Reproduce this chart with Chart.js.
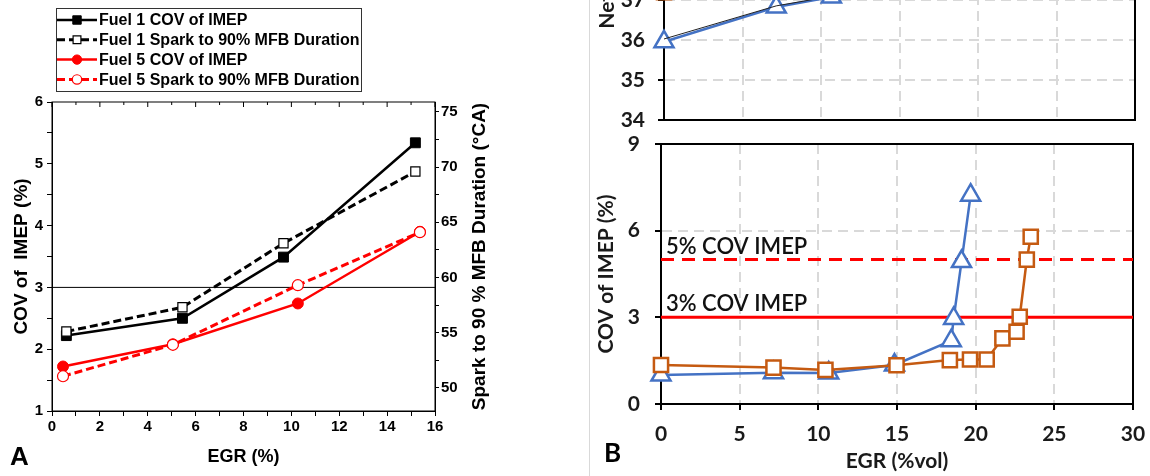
<!DOCTYPE html>
<html>
<head>
<meta charset="utf-8">
<script src="https://cdn.jsdelivr.net/npm/chart.js@4.4.1/dist/chart.umd.min.js"></script>
<style>
html, body { margin: 0; padding: 0; background: #fff; width: 1150px; height: 476px; overflow: hidden; position: relative; }
canvas { position: absolute; }
#panelA { left: 0; top: 0; }
#effB { left: 590px; top: -330px; }
#covB { left: 590px; top: 124px; }
#divider { position: absolute; left: 589px; top: 0; width: 1px; height: 476px; background: #d9d9d9; }
</style>
</head>
<body>
<div id="divider"></div>
<canvas id="panelA" width="500" height="476"></canvas>
<canvas id="effB" width="560" height="464"></canvas>
<canvas id="covB" width="560" height="352"></canvas>
<script>
// ---- panel A : fuel 1 vs fuel 5 ----
const egrFuel1 = [0.6, 5.45, 9.67, 15.18];
const covFuel1 = [2.22, 2.50, 3.49, 5.34];
const sparkFuel1 = [55.1, 57.3, 63.1, 69.6];
const egrFuel5 = [0.46, 5.05, 10.27, 15.37];
const covFuel5 = [1.72, 2.08, 2.74, 3.90];
const sparkFuel5 = [51.05, 53.9, 59.3, 64.1];
const covLimitA = 3;
const egrRangeA = [0, 16];
const covRangeA = [1, 6];
const sparkRangeA = [47.9, 75.9];

// ---- panel B : two blends, COV and efficiency vs EGR ----
const egrBlue = [0, 7.15, 10.66, 14.84, 18.45, 18.6, 19.1, 19.68];
const covBlue = [1.0, 1.08, 1.07, 1.35, 2.19, 2.96, 4.93, 7.23];
const effBlue = [35.96, 36.83, 37.08, 37.5, 37.25, 37.6, 37.8, 37.9];
const egrOrange = [0, 7.15, 10.45, 14.97, 18.36, 19.64, 20.7, 21.7, 22.6, 22.8, 23.25, 23.5];
const covOrange = [1.35, 1.26, 1.18, 1.34, 1.52, 1.54, 1.54, 2.27, 2.5, 3.02, 5.0, 5.79];
const effOrange = [37.2, 37.9, 38.2, 38.6, 38.8, 38.9, 38.9, 38.8, 38.6, 38.5, 38.2, 38.0];
const egrTrend = [0, 7.15, 10.66];
const effTrend = [36.03, 36.86, 37.1];
const covLimitsB = [3, 5];
const covLimitLabelsB = ['3% COV IMEP', '5% COV IMEP'];
const egrRangeB = [0, 30];
const covRangeB = [0, 9];
const effRangeB = [34, 44.75];

const pts = (xs, ys) => xs.map((x, i) => ({x: x, y: ys[i]}));

const ARIAL = 'Liberation Sans';
const CALI = 'Lato';
const BLUE = '#4472c4';
const ORANGE = '#c55a11';

// fixed axis boxes, no extra room for overhanging labels
const fixW = w => s => { s.width = w; s.paddingTop = 0; s.paddingBottom = 0; };
const fixH = h => s => { s.height = h; s.paddingLeft = 0; s.paddingRight = 0; };

// box round the plot area
const frame = {
  id: 'frame',
  beforeDatasetsDraw(chart, args, opts) {
    const a = chart.chartArea, ctx = chart.ctx;
    ctx.save();
    ctx.strokeStyle = '#000';
    ctx.lineWidth = opts.width || 1;
    ctx.strokeRect(a.left, a.top, a.right - a.left, a.bottom - a.top);
    if (opts.topTicks) {
      const sx = chart.scales.x;
      ctx.lineWidth = 1;
      for (let v = sx.min; v <= sx.max; v++) {
        const px = sx.getPixelForValue(v);
        ctx.beginPath();
        ctx.moveTo(px, a.top);
        ctx.lineTo(px, a.top + (v % 2 === 0 ? 5 : 3));
        ctx.stroke();
      }
    }
    ctx.restore();
  }
};

// legend in a box, panel A
const boxLegend = {
  id: 'boxLegend',
  afterDraw(chart, args, o) {
    if (!o.show) return;
    const ctx = chart.ctx;
    ctx.save();
    ctx.strokeStyle = '#333';
    ctx.lineWidth = 1;
    ctx.strokeRect(o.x + 0.5, o.y + 0.5, o.w, o.h);
    ctx.font = 'bold 16px "' + ARIAL + '"';
    ctx.textBaseline = 'middle';
    ctx.fillStyle = '#000';
    chart.data.datasets.filter(d => d.label).forEach((d, i) => {
      const y = o.y + o.rowTop + i * o.rowH;
      ctx.strokeStyle = d.borderColor;
      ctx.lineWidth = d.borderWidth;
      ctx.setLineDash(d.borderDash || []);
      ctx.beginPath();
      ctx.moveTo(o.x + 1, y);
      ctx.lineTo(o.x + 41, y);
      ctx.stroke();
      ctx.setLineDash([]);
      ctx.fillStyle = d.pointBackgroundColor;
      ctx.strokeStyle = d.pointBorderColor;
      ctx.lineWidth = d.pointBorderWidth;
      Chart.helpers.drawPoint(ctx, {pointStyle: d.pointStyle, radius: d.pointRadius * 0.85, borderWidth: d.pointBorderWidth, rotation: 0}, o.x + 21, y);
      ctx.fillStyle = '#000';
      ctx.fillText(d.label, o.x + 43, y + 1);
    });
    ctx.restore();
  }
};

// free texts: right title, panel letters, limit labels
const extraText = {
  id: 'extraText',
  afterDraw(chart, args, o) {
    const ctx = chart.ctx, a = chart.chartArea;
    ctx.save();
    ctx.fillStyle = '#000';
    if (o.rightTitle) {
      ctx.save();
      ctx.font = 'bold 19px "' + ARIAL + '"';
      ctx.textAlign = 'center';
      ctx.textBaseline = 'middle';
      ctx.translate(o.rightTitleX, (a.top + a.bottom) / 2);
      ctx.rotate(-Math.PI / 2);
      ctx.fillText(o.rightTitle, 0, 0);
      ctx.restore();
    }
    if (o.letter) {
      ctx.font = o.letterFont;
      ctx.textAlign = 'left';
      ctx.textBaseline = 'alphabetic';
      ctx.fillText(o.letter, o.letterX, o.letterY);
    }
    if (o.limits) {
      ctx.font = '600 22px "' + CALI + '"';
      ctx.fillStyle = '#111';
      ctx.textAlign = 'left';
      ctx.textBaseline = 'alphabetic';
      o.limits.forEach((v, i) => {
        ctx.fillText(o.limitLabels[i], a.left + 5, chart.scales.y.getPixelForValue(v) - 6);
      });
    }
    ctx.restore();
  }
};

Chart.register(frame, boxLegend, extraText);

const fontA = (size) => ({family: ARIAL, weight: 'bold', size: size});
const fontB = (size) => ({family: CALI, weight: 'bold', size: size});

new Chart(document.getElementById('panelA'), {
  type: 'line',
  data: {
    datasets: [
      { label: 'Fuel 1 COV of IMEP', data: pts(egrFuel1, covFuel1), yAxisID: 'y',
        borderColor: '#000', borderWidth: 2.5, pointStyle: 'rect', pointRadius: 7,
        pointBackgroundColor: '#000', pointBorderColor: '#000', pointBorderWidth: 1, order: 3 },
      { label: 'Fuel 1 Spark to 90% MFB Duration', data: pts(egrFuel1, sparkFuel1), yAxisID: 'y2',
        borderColor: '#000', borderWidth: 3, borderDash: [8, 4], pointStyle: 'rect', pointRadius: 6.5,
        pointBackgroundColor: '#fff', pointBorderColor: '#000', pointBorderWidth: 1.2, order: 1 },
      { label: 'Fuel 5 COV of IMEP', data: pts(egrFuel5, covFuel5), yAxisID: 'y',
        borderColor: '#ff0000', borderWidth: 2.5, pointStyle: 'circle', pointRadius: 5.5,
        pointBackgroundColor: '#ff0000', pointBorderColor: '#ff0000', pointBorderWidth: 1, order: 4 },
      { label: 'Fuel 5 Spark to 90% MFB Duration', data: pts(egrFuel5, sparkFuel5), yAxisID: 'y2',
        borderColor: '#ff0000', borderWidth: 3, borderDash: [8, 4], pointStyle: 'circle', pointRadius: 5.5,
        pointBackgroundColor: '#fff', pointBorderColor: '#ff0000', pointBorderWidth: 1.2, order: 2 },
      { data: [{x: egrRangeA[0], y: covLimitA}, {x: egrRangeA[1], y: covLimitA}], yAxisID: 'y',
        borderColor: '#000', borderWidth: 1, pointRadius: 0, order: 5 }
    ]
  },
  options: {
    responsive: false, animation: false, devicePixelRatio: 1,
    layout: { padding: { top: 102, left: 0, right: 0, bottom: 0 } },
    scales: {
      x: {
        type: 'linear', min: egrRangeA[0], max: egrRangeA[1],
        ticks: { stepSize: 1, autoSkip: false, maxRotation: 0, padding: 2, color: '#000', font: fontA(15),
                 callback: v => v % 2 === 0 ? v : '' },
        grid: { drawOnChartArea: false, tickLength: 5, tickColor: '#000' },
        border: { color: '#000', width: 1 },
        title: { display: true, text: 'EGR (%)', color: '#000', font: fontA(18), padding: { top: 0, bottom: 8 } },
        afterFit: fixH(65)
      },
      y: {
        position: 'left', min: covRangeA[0], max: covRangeA[1],
        ticks: { stepSize: 0.5, autoSkip: false, padding: 4, color: '#000', font: fontA(15),
                 callback: v => Number.isInteger(v) ? v : '' },
        grid: { drawOnChartArea: false, tickLength: 5, tickColor: '#000' },
        border: { color: '#000', width: 1 },
        title: { display: true, text: 'COV of  IMEP (%)', color: '#000', font: fontA(19), padding: { top: 10, bottom: 0 } },
        afterFit: fixW(52)
      },
      y2: {
        position: 'right', min: sparkRangeA[0], max: sparkRangeA[1],
        ticks: { stepSize: 2.5, includeBounds: false, autoSkip: false, padding: 2, color: '#000', font: fontA(15),
                 callback: v => v % 5 === 0 ? v : '' },
        grid: { drawOnChartArea: false, tickLength: 4, tickColor: '#000' },
        border: { color: '#000', width: 1 },
        afterFit: fixW(65)
      }
    },
    plugins: {
      legend: { display: false }, tooltip: { enabled: false },
      frame: { width: 1, topTicks: true },
      boxLegend: { show: true, x: 56, y: 8, w: 305, h: 83, rowTop: 12, rowH: 19.8 },
      extraText: { rightTitle: 'Spark to 90 % MFB Duration (°CA)', rightTitleX: 480,
                   letter: 'A', letterFont: 'bold 26px "' + ARIAL + '"', letterX: 10, letterY: 465 }
    }
  }
});

const gridB = { color: '#d9d9d9', lineWidth: 2, tickLength: 6, tickColor: '#000', tickWidth: 2 };

new Chart(document.getElementById('effB'), {
  type: 'line',
  data: {
    datasets: [
      { label: 'Orange', data: pts(egrOrange, effOrange), borderColor: ORANGE, borderWidth: 2.5,
        pointStyle: 'rect', pointRadius: 10, pointBackgroundColor: '#fff', pointBorderColor: ORANGE, pointBorderWidth: 2.5, clip: false },
      { label: 'Trend', data: pts(egrTrend, effTrend), borderColor: '#222', borderWidth: 1, pointRadius: 0 },
      { label: 'Blue', data: pts(egrBlue, effBlue), borderColor: BLUE, borderWidth: 2.5,
        pointStyle: 'triangle', pointRadius: 11, pointBackgroundColor: '#fff', pointBorderColor: BLUE, pointBorderWidth: 2.5, clip: false }
    ]
  },
  options: {
    responsive: false, animation: false, devicePixelRatio: 1,
    layout: { padding: { top: 21, left: 0, right: 15, bottom: 4 } },
    scales: {
      x: {
        type: 'linear', min: egrRangeB[0], max: egrRangeB[1],
        ticks: { display: false, stepSize: 5 },
        grid: Object.assign({}, gridB, { drawTicks: false }),
        border: { color: '#000', width: 2, dash: [10, 6] },
        afterFit: fixH(10)
      },
      y: {
        min: effRangeB[0], max: effRangeB[1],
        ticks: { stepSize: 1, includeBounds: false, padding: 13, color: '#1a1a1a', font: fontB(21) },
        grid: gridB,
        border: { color: '#000', width: 2, dash: [10, 6] },
        title: { display: true, text: 'Net Thermal Efficiency (%)', color: '#1a1a1a', font: fontB(21), padding: { top: 5, bottom: 0 } },
        afterFit: fixW(74)
      }
    },
    plugins: { legend: { display: false }, tooltip: { enabled: false }, frame: { width: 2 } }
  }
});

new Chart(document.getElementById('covB'), {
  type: 'line',
  data: {
    datasets: [
      { label: 'Orange', data: pts(egrOrange, covOrange), borderColor: ORANGE, borderWidth: 2.5,
        pointStyle: 'rect', pointRadius: 10, pointBackgroundColor: '#fff', pointBorderColor: ORANGE, pointBorderWidth: 2.5, clip: false },
      { label: 'Blue', data: pts(egrBlue, covBlue), borderColor: BLUE, borderWidth: 2.5,
        pointStyle: 'triangle', pointRadius: 11, pointBackgroundColor: '#fff', pointBorderColor: BLUE, pointBorderWidth: 2.5, clip: false },
      { label: '3% COV IMEP', data: [{x: egrRangeB[0], y: covLimitsB[0]}, {x: egrRangeB[1], y: covLimitsB[0]}],
        borderColor: '#ff0000', borderWidth: 3, pointRadius: 0 },
      { label: '5% COV IMEP', data: [{x: egrRangeB[0], y: covLimitsB[1]}, {x: egrRangeB[1], y: covLimitsB[1]}],
        borderColor: '#ff0000', borderWidth: 3, borderDash: [13, 8], pointRadius: 0 }
    ]
  },
  options: {
    responsive: false, animation: false, devicePixelRatio: 1,
    layout: { padding: { top: 20, left: 0, right: 17, bottom: 0 } },
    scales: {
      x: {
        type: 'linear', min: egrRangeB[0], max: egrRangeB[1],
        ticks: { stepSize: 5, maxRotation: 0, padding: 12, color: '#1a1a1a', font: fontB(21) },
        grid: gridB,
        border: { color: '#000', width: 2, dash: [10, 6] },
        title: { display: true, text: 'EGR (%vol)', color: '#1a1a1a', font: fontB(21), padding: { top: 0, bottom: 2 } },
        afterFit: fixH(72)
      },
      y: {
        min: covRangeB[0], max: covRangeB[1],
        ticks: { stepSize: 3, padding: 15, color: '#1a1a1a', font: fontB(21) },
        grid: gridB,
        border: { color: '#000', width: 2, dash: [10, 6] },
        title: { display: true, text: 'COV of IMEP (%)', color: '#1a1a1a', font: fontB(21), padding: { top: 4, bottom: 0 } },
        afterFit: fixW(71)
      }
    },
    plugins: {
      legend: { display: false }, tooltip: { enabled: false }, frame: { width: 2 },
      extraText: { letter: 'B', letterFont: 'bold 26px "' + CALI + '"', letterX: 14, letterY: 338,
                   limits: covLimitsB, limitLabels: covLimitLabelsB }
    }
  }
});
</script>
</body>
</html>
